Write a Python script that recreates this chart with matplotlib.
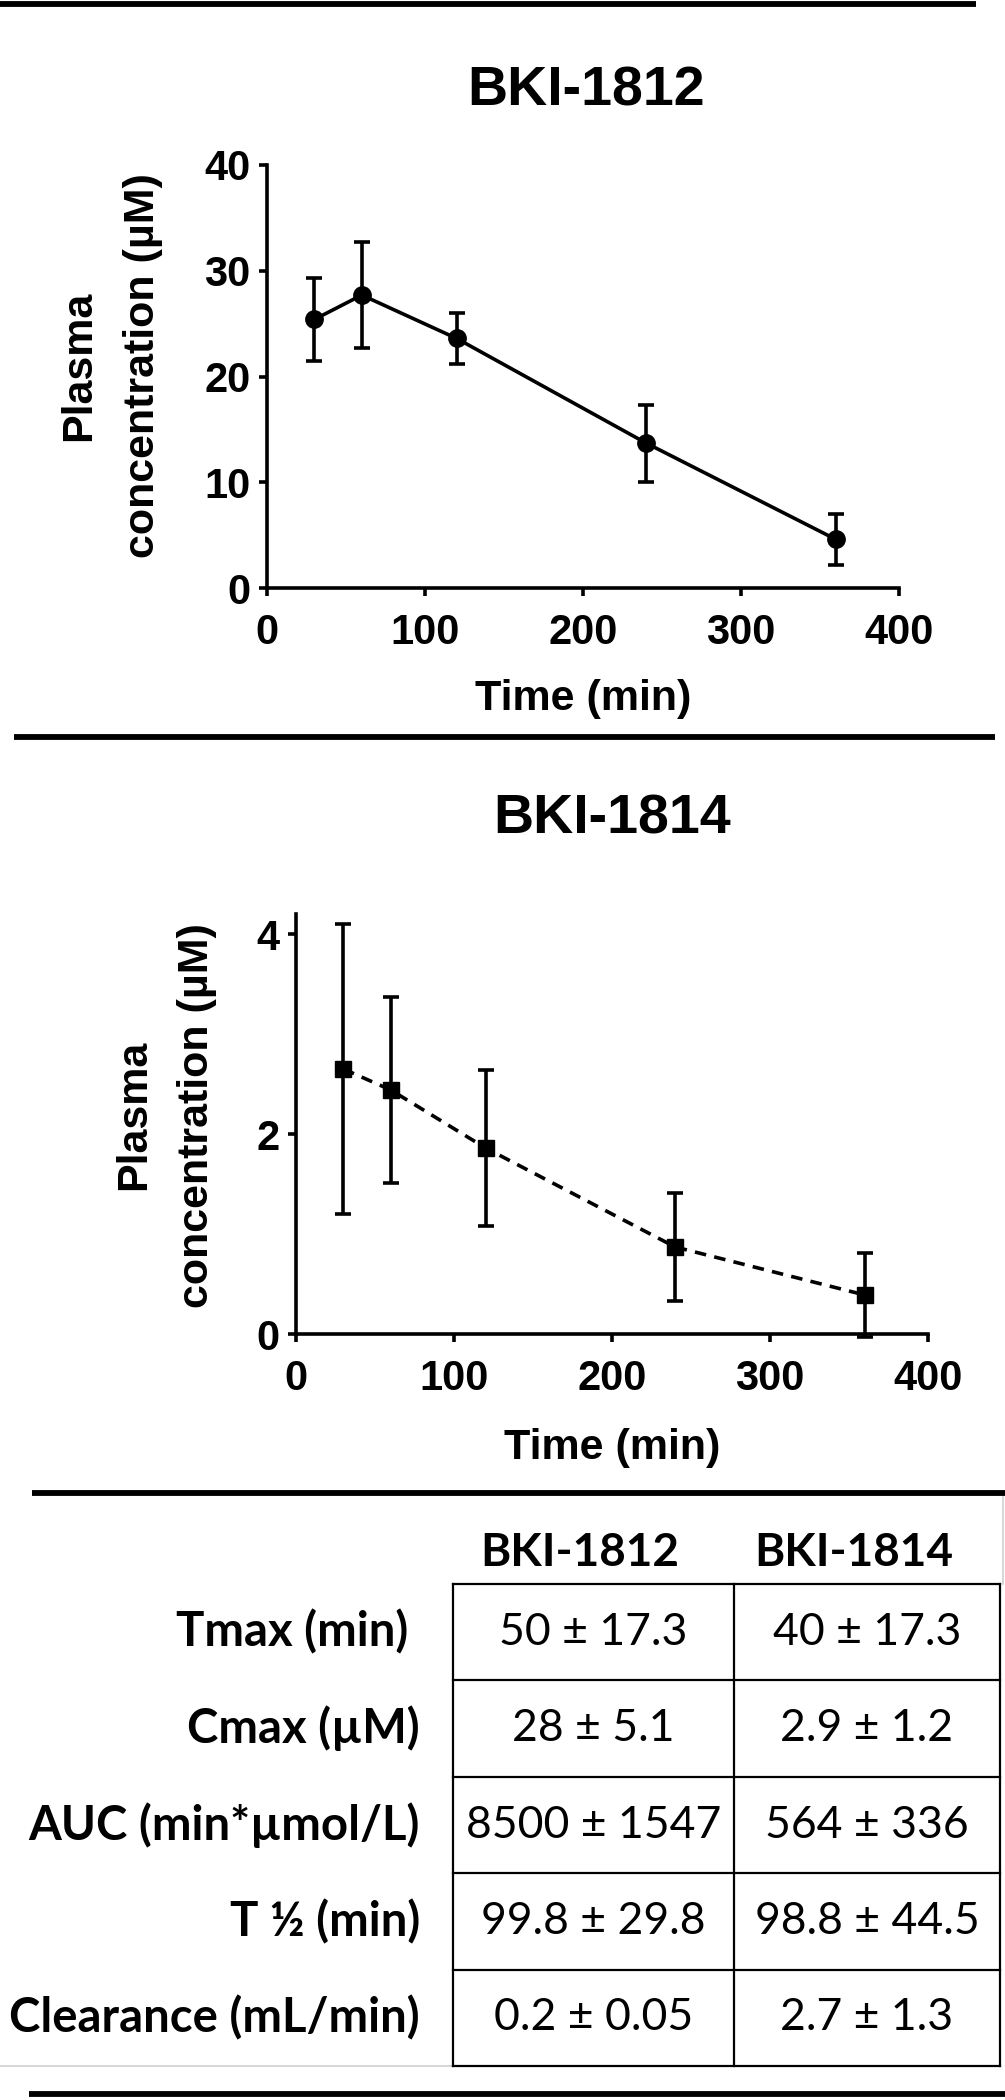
import matplotlib
matplotlib.use("Agg")
import matplotlib.pyplot as plt

# ---------------- data ----------------
time_min = [30, 60, 120, 240, 360]
bki1812_mean = [25.4, 27.7, 23.6, 13.7, 4.6]
bki1812_sd = [3.95, 5.05, 2.4, 3.65, 2.4]
bki1814_mean = [2.65, 2.44, 1.86, 0.87, 0.39]
bki1814_sd = [1.45, 0.93, 0.78, 0.54, 0.42]

x_ticks = [0, 100, 200, 300, 400]
y_ticks_1812 = [0, 10, 20, 30, 40]
y_ticks_1814 = [0, 2, 4]

table_columns = ["BKI-1812", "BKI-1814"]
table_rows = ["Tmax (min) ", "Cmax (µM)", "AUC (min*µmol/L)", "T ½ (min)", "Clearance (mL/min)"]
col_1812 = ["50 ± 17.3", "28 ± 5.1", "8500 ± 1547", "99.8 ± 29.8", "0.2 ± 0.05"]
col_1814 = ["40 ± 17.3", "2.9 ± 1.2", "564 ± 336", "98.8 ± 44.5", "2.7 ± 1.3"]

# ---------------- figure ----------------
W, H = 1005, 2100
fig = plt.figure(figsize=(W / 100, H / 100), dpi=100)
fig.patch.set_facecolor("white")

CHART_FONT = ["Liberation Sans", "DejaVu Sans"]
TABLE_FONT = ["Lato", "DejaVu Sans"]

# overlay axes in pixel coordinates for layout elements
ov = fig.add_axes([0, 0, 1, 1], zorder=0)
ov.set_xlim(0, W)
ov.set_ylim(H, 0)
ov.axis("off")


def axes_px(left, top, right, bottom):
    ax = fig.add_axes([left / W, 1 - bottom / H, (right - left) / W, (bottom - top) / H], zorder=2)
    ax.set_facecolor("none")
    return ax


def style(ax, yticks, ylim, ylab_xy, xlab_xy):
    ax.set_xlim(0, 400)
    ax.set_ylim(*ylim)
    ax.set_xticks(x_ticks)
    ax.set_yticks(yticks)
    for s in ("top", "right"):
        ax.spines[s].set_visible(False)
    for s in ("left", "bottom"):
        ax.spines[s].set_linewidth(2.6)
    ax.tick_params(axis="both", direction="out", length=6, width=2.6, color="black")
    ax.tick_params(axis="x", pad=12)
    ax.tick_params(axis="y", pad=6)
    for lab in ax.get_xticklabels() + ax.get_yticklabels():
        lab.set_fontfamily(CHART_FONT)
        lab.set_fontweight("bold")
        lab.set_fontsize(30)
    ax.set_xlabel("Time (min)", fontsize=31, fontweight="bold", family=CHART_FONT)
    ax.xaxis.label.set_va("center")
    ax.xaxis.set_label_coords(*xlab_xy)
    ax.set_ylabel("Plasma\nconcentration (µM)", fontsize=31, fontweight="bold",
                  family=CHART_FONT, linespacing=1.75)
    ax.yaxis.label.set_va("center")
    ax.yaxis.set_label_coords(*ylab_xy)


# ---- chart 1 : BKI-1812 ----
ax1 = axes_px(267, 165, 899, 588)
ax1.errorbar(time_min, bki1812_mean, yerr=bki1812_sd, color="black", lw=2.6,
             marker="o", markersize=12.5, capsize=6, capthick=2.6, elinewidth=2.6,
             clip_on=False, zorder=3)
style(ax1, y_ticks_1812, (0, 40), (-0.247, 0.525), (0.5, -0.262))
ov.text(586, 92, "BKI-1812", ha="center", va="center", fontsize=40,
        fontweight="bold", family=CHART_FONT)

# ---- chart 2 : BKI-1814 ----
ax2 = axes_px(296, 914, 928, 1334)
ax2.errorbar(time_min, bki1814_mean, yerr=bki1814_sd, color="black", lw=2.6,
             ls=(0, (3.2, 2.3)), marker="s", markersize=11, capsize=6,
             capthick=2.6, elinewidth=2.6, clip_on=False, zorder=3)
style(ax2, y_ticks_1814, (0, 4.2), (-0.206, 0.521), (0.5, -0.271))
ov.text(612, 820, "BKI-1814", ha="center", va="center", fontsize=40,
        fontweight="bold", family=CHART_FONT)

# ---- separator rules ----
for y, x0, x1 in [(4, 0, 976), (737, 14, 995), (1493, 32, 1005), (2094, 29, 1005)]:
    ov.plot([x0, x1], [y, y], color="black", lw=4.2, solid_capstyle="butt")

# ---- table ----
col_edges = [453, 734, 1000]
table_top = 1584
row_h = 96.4
n = len(table_rows)
table_bottom = table_top + n * row_h
header_x = [580, 854]

# faint outer lines
ov.plot([0, col_edges[0]], [table_bottom, table_bottom], color="#d0d0d0", lw=1.2)
ov.plot([col_edges[-1] + 3, col_edges[-1] + 3], [1497, table_top], color="#d0d0d0", lw=1.2)

for i in range(n + 1):
    y = table_top + i * row_h
    ov.plot([col_edges[0], col_edges[-1]], [y, y], color="black", lw=1.6,
            solid_capstyle="projecting")
for x in col_edges:
    ov.plot([x, x], [table_top, table_bottom], color="black", lw=1.6,
            solid_capstyle="projecting")

for hx, name in zip(header_x, table_columns):
    ov.text(hx, 1553, name, ha="center", va="center", fontsize=33,
            fontweight="bold", family=TABLE_FONT)

for i, (lab, v1, v2) in enumerate(zip(table_rows, col_1812, col_1814)):
    yc = table_top + (i + 0.5) * row_h
    ov.text(420, yc, lab, ha="right", va="center", fontsize=34,
            fontweight="bold", family=TABLE_FONT)
    ov.text((col_edges[0] + col_edges[1]) / 2, yc, v1, ha="center", va="center",
            fontsize=32, family=TABLE_FONT)
    ov.text((col_edges[1] + col_edges[2]) / 2, yc, v2, ha="center", va="center",
            fontsize=32, family=TABLE_FONT)

fig.savefig("out.png", dpi=100, facecolor="white")
